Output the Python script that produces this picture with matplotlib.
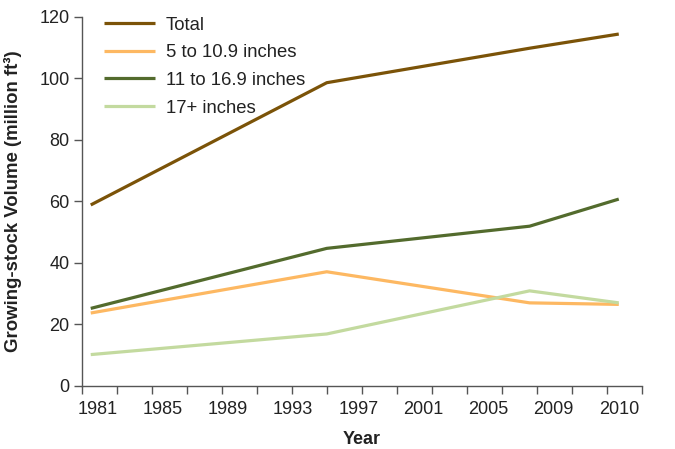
import matplotlib
matplotlib.use("Agg")
import matplotlib.pyplot as plt
import numpy as np
from matplotlib.ticker import FixedLocator, NullFormatter

plt.rcParams["font.family"] = ["Liberation Sans", "DejaVu Sans"]

# Survey positions on the year axis
survey_year = [1980.5, 1994.0, 2005.6, 2010.7]

total = [58.8, 98.5, 109.7, 114.3]
small = [23.7, 37.1, 27.0, 26.5]      # 5 to 10.9 inches
medium = [25.2, 44.7, 51.9, 60.7]     # 11 to 16.9 inches
large = [10.2, 16.9, 30.9, 27.0]      # 17+ inches

series_names = ["Total", "5 to 10.9 inches", "11 to 16.9 inches", "17+ inches"]
series_colors = ["#7B5308", "#FDB862", "#536B2D", "#C3DA9F"]

label_text = ["1981", "1985", "1989", "1993", "1997", "2001", "2005", "2009", "2010"]

# tick marks split the axis into 16 equal steps; year labels are spread evenly
tick_bounds = np.linspace(1980, 2012, 17)
label_pos = np.linspace(1980.9, 2010.7, len(label_text))

fig = plt.figure(figsize=(6.75, 4.49), dpi=100)
ax = fig.add_axes([82 / 675, 1 - 386 / 449, (641.5 - 82) / 675, (386 - 16.5) / 449])

for vals, name, col in zip([total, small, medium, large], series_names, series_colors):
    ax.plot(survey_year, vals, color=col, lw=2.3, label=name, solid_capstyle="butt")

ax.set_xlim(1980, 2012)
ax.set_ylim(0, 120)
ax.set_yticks(range(0, 121, 20))

ax.xaxis.set_major_locator(FixedLocator(tick_bounds))
ax.xaxis.set_major_formatter(NullFormatter())
ax.set_xticks(label_pos, minor=True)
ax.set_xticklabels(label_text, minor=True)
ax.tick_params(axis="both", which="major", length=5.5, width=1, color="#555555",
               labelsize=13, labelcolor="#222222")
ax.tick_params(axis="x", which="minor", length=0, pad=11, labelsize=13,
               labelcolor="#222222")

for side in ["top", "right"]:
    ax.spines[side].set_visible(False)
for side in ["left", "bottom"]:
    ax.spines[side].set_color("#555555")
    ax.spines[side].set_linewidth(1)

ax.set_xlabel("Year", fontsize=13, fontweight="bold", color="#222222", labelpad=9)
ax.set_ylabel("Growing-stock Volume (million ft³)", fontsize=13.4,
              fontweight="bold", color="#222222")
ax.yaxis.set_label_coords(-(82 - 22) / (641.5 - 82), 0.5)

leg = ax.legend(loc="upper left", bbox_to_anchor=((104 - 82) / 559.5, 1.0),
                frameon=False, fontsize=13.3, handlelength=2.75,
                handletextpad=0.6, labelspacing=0.58, borderaxespad=0,
                borderpad=0)
for t in leg.get_texts():
    t.set_color("#222222")

fig.savefig("out.png", dpi=100)
